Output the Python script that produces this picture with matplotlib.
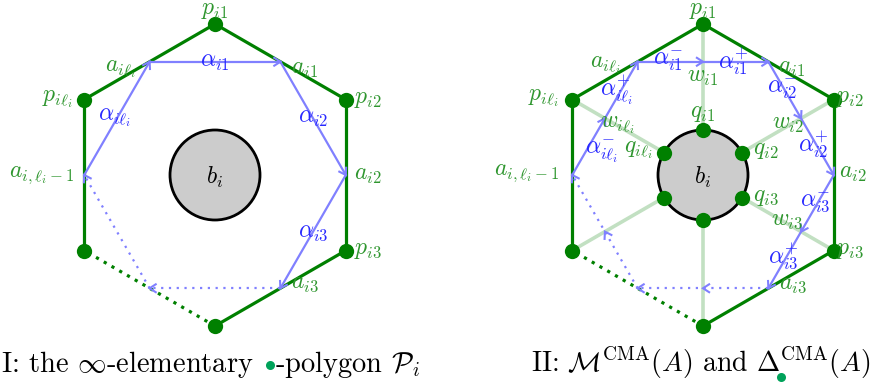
import matplotlib
matplotlib.use("Agg")
import matplotlib.pyplot as plt
from matplotlib.patches import Circle
import numpy as np

# ---- diagram parameters (pixel units, y grows downwards) ----
PANEL_CENTERS = [(215, 175), (703, 175)]
HEX_RADIUS = 151
DISK_RADIUS = 45
VERTEX_ANGLES = [90, 30, -30, -90, -150, 150]      # p_i1, p_i2, p_i3, bottom, lower-left, p_il
SOLID_EDGES = [(4, 5), (5, 0), (0, 1), (1, 2), (2, 3)]
DOTTED_EDGES = [(3, 4)]
# blue path: edge midpoints a_k, taken as (edge start, edge end, dotted?)
EDGE_ORDER = [(5, 0), (0, 1), (1, 2), (2, 3), (3, 4), (4, 5)]
PATH_STEPS = [(0, 1, False), (1, 2, False), (2, 3, False), (3, 4, True), (4, 5, True), (5, 0, False)]

# labels: text, dx, dy (from panel centre), colour key
LEFT_LABELS = [
    (r"$p_{i1}$", 0, -165, "g"),
    (r"$a_{i\ell_i}$", -95, -106, "g"),
    (r"$\alpha_{i1}$", 0, -113, "b"),
    (r"$a_{i1}$", 90, -106, "g"),
    (r"$p_{i\ell_i}$", -158, -76, "g"),
    (r"$p_{i2}$", 153, -76, "g"),
    (r"$\alpha_{i\ell_i}$", -100, -57, "b"),
    (r"$\alpha_{i2}$", 98, -57, "b"),
    (r"$b_i$", 0, 2, "k"),
    (r"$a_{i,\ell_i-1}$", -173, 0, "g"),
    (r"$a_{i2}$", 153, 0, "g"),
    (r"$\alpha_{i3}$", 98, 57, "b"),
    (r"$p_{i3}$", 153, 75, "g"),
    (r"$a_{i3}$", 90, 108, "g"),
]
RIGHT_LABELS = [
    (r"$p_{i1}$", 0, -165, "g"),
    (r"$a_{i\ell_i}$", -98, -110, "g"),
    (r"$\alpha^{-}_{i1}$", -35, -113, "b"),
    (r"$w_{i1}$", 0, -98, "g"),
    (r"$\alpha^{+}_{i1}$", 30, -113, "b"),
    (r"$a_{i1}$", 89, -107, "g"),
    (r"$p_{i\ell_i}$", -160, -77, "g"),
    (r"$\alpha^{+}_{i\ell_i}$", -86, -85, "b"),
    (r"$\alpha^{-}_{i2}$", 79, -85, "b"),
    (r"$p_{i2}$", 147, -77, "g"),
    (r"$w_{i\ell_i}$", -86, -50, "g"),
    (r"$w_{i2}$", 85, -51, "g"),
    (r"$q_{i1}$", 0, -62, "g"),
    (r"$q_{i\ell_i}$", -65, -25, "g"),
    (r"$q_{i2}$", 63, -25, "g"),
    (r"$\alpha^{+}_{i2}$", 110, -30, "b"),
    (r"$\alpha^{-}_{i\ell_i}$", -101, -23, "b"),
    (r"$a_{i,\ell_i-1}$", -176, -2, "g"),
    (r"$b_i$", 0, 2, "k"),
    (r"$a_{i2}$", 150, -2, "g"),
    (r"$q_{i3}$", 63, 22, "g"),
    (r"$\alpha^{-}_{i3}$", 112, 28, "b"),
    (r"$w_{i3}$", 84, 45, "g"),
    (r"$p_{i3}$", 147, 75, "g"),
    (r"$\alpha^{+}_{i3}$", 80, 82, "b"),
    (r"$a_{i3}$", 90, 109, "g"),
]

GREEN = "#008000"
LABEL_COLORS = {"g": "#2f962f", "b": "#2828ff", "k": "black"}
BLUE_LINE = "#8080ff"
SPOKE = "#c2e0c2"
DISK_FILL = "#cccccc"
DOT_GREEN = "#00a25a"
LABEL_SIZE = 17
CAPTION_SIZE = 20.5
CAPTION2_SIZE = 20

plt.rcParams["mathtext.fontset"] = "cm"
plt.rcParams["font.family"] = "serif"
plt.rcParams["font.serif"] = ["cmr10", "DejaVu Serif"]

W, H = 872, 385
fig = plt.figure(figsize=(W / 100, H / 100), dpi=100)
ax = fig.add_axes([0, 0, 1, 1])
ax.set_xlim(0, W)
ax.set_ylim(H, 0)
ax.axis("off")


def vertices(cx, cy):
    ang = np.radians(VERTEX_ANGLES)
    return np.column_stack([cx + HEX_RADIUS * np.cos(ang), cy - HEX_RADIUS * np.sin(ang)])


def chevron(tip, start, color, lw=1.5, length=7.0, half=4.5):
    tip = np.asarray(tip, float)
    d = tip - np.asarray(start, float)
    d /= np.hypot(*d)
    n = np.array([-d[1], d[0]])
    back = tip - d * length
    pts = np.array([back + n * half, tip, back - n * half])
    ax.plot(pts[:, 0], pts[:, 1], color=color, lw=lw, solid_joinstyle="miter",
            solid_capstyle="butt", zorder=6)


def blue_segment(p, q, dotted):
    ls = (0, (1, 2.5)) if dotted else "-"
    ax.plot([p[0], q[0]], [p[1], q[1]], color=BLUE_LINE, lw=1.6, ls=ls, zorder=5)


def draw_panel(cx, cy, labels, refined):
    V = vertices(cx, cy)
    if refined:
        for v in V:
            ax.plot([cx, v[0]], [cy, v[1]], color=SPOKE, lw=2.6, zorder=1)
    ax.add_patch(Circle((cx, cy), DISK_RADIUS, fc=DISK_FILL, ec="black", lw=2.0, zorder=2))
    if refined:
        ang = np.radians(VERTEX_ANGLES)
        ax.plot(cx + DISK_RADIUS * np.cos(ang), cy - DISK_RADIUS * np.sin(ang), "o",
                color=GREEN, ms=11, mew=0, zorder=3)

    for i, j in SOLID_EDGES:
        ax.plot(V[[i, j], 0], V[[i, j], 1], color=GREEN, lw=2.3, solid_capstyle="butt", zorder=3)
    for i, j in DOTTED_EDGES:
        ax.plot(V[[i, j], 0], V[[i, j], 1], color=GREEN, lw=2.3, ls=(0, (1, 1.8)), zorder=3)
    ax.plot(V[:, 0], V[:, 1], "o", color=GREEN, ms=11, mew=0, zorder=4)

    mids = np.array([(V[i] + V[j]) / 2 for i, j in EDGE_ORDER])
    for s, e, dotted in PATH_STEPS:
        p, q = mids[s], mids[e]
        blue_segment(p, q, dotted)
        if refined:
            m = (p + q) / 2
            chevron(m, p, BLUE_LINE)
        chevron(q, p, BLUE_LINE)

    for txt, dx, dy, c in labels:
        ax.text(cx + dx, cy + dy, txt, color=LABEL_COLORS[c], fontsize=LABEL_SIZE,
                ha="center", va="center", zorder=8)


draw_panel(*PANEL_CENTERS[0], LEFT_LABELS, refined=False)
draw_panel(*PANEL_CENTERS[1], RIGHT_LABELS, refined=True)

# ---- captions ----
renderer = fig.canvas.get_renderer()
base_y = 372

t1 = ax.text(1, base_y, r"I: the $\infty$-elementary", fontsize=CAPTION_SIZE, va="baseline", ha="left")
bb = t1.get_window_extent(renderer)
dot_x = bb.x1 + 16
ax.plot([dot_x], [base_y - 7], "o", color=DOT_GREEN, ms=6.5, mew=0)
ax.text(dot_x + 5, base_y, r"-polygon $\mathcal{P}_i$", fontsize=CAPTION_SIZE, va="baseline", ha="left")

cap2 = r"II: $\mathcal{M}^{\mathrm{CMA}}(A)$ and $\Delta^{\mathrm{CMA}}(A)$"
ax.text(531, base_y, cap2, fontsize=CAPTION2_SIZE, va="baseline", ha="left")
probe = ax.text(531, base_y, r"II: $\mathcal{M}^{\mathrm{CMA}}(A)$ and $\Delta$", fontsize=CAPTION2_SIZE,
                va="baseline", ha="left", alpha=0)
pb = probe.get_window_extent(renderer)
ax.plot([pb.x1 + 1], [base_y + 5], "o", color=DOT_GREEN, ms=6.5, mew=0)

fig.savefig("out.png", dpi=100)
